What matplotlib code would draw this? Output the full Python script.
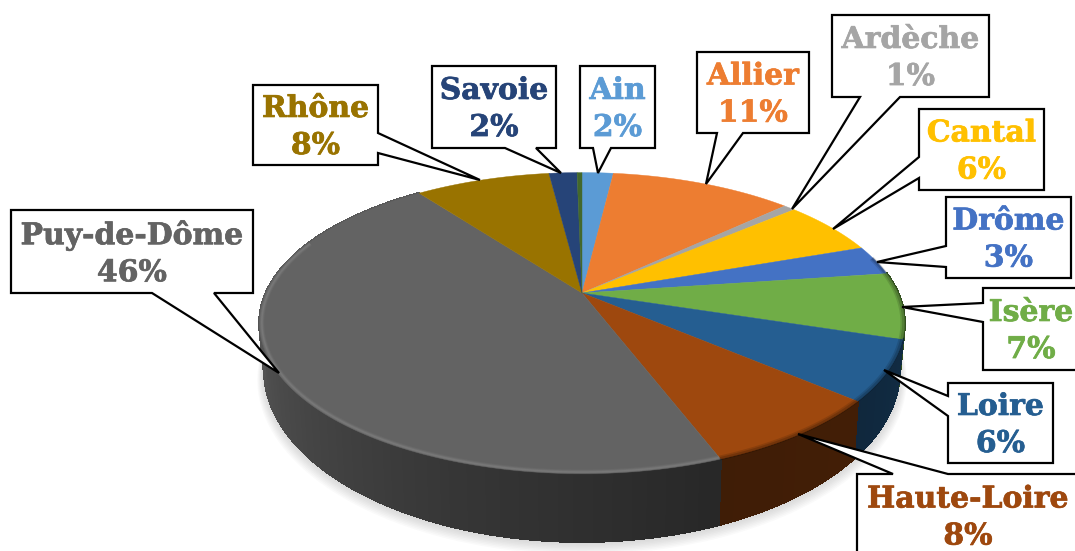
import numpy as np
import matplotlib
matplotlib.use("Agg")
import matplotlib.pyplot as plt
import matplotlib.patheffects as pe
from matplotlib.collections import PolyCollection
from matplotlib.patches import Polygon

names = ["Ain", "Allier", "Ardèche", "Cantal", "Drôme", "Isère", "Loire",
         "Haute-Loire", "Puy-de-Dôme", "Rhône", "Savoie", ""]
values = [1.9, 11.1, 0.7, 5.9, 3.2, 7.1, 6.4, 7.9, 45.6, 8.2, 1.7, 0.3]
colors = ["#5B9BD5", "#ED7D31", "#A5A5A5", "#FFC000", "#4472C4", "#70AD47",
          "#255E91", "#9E480E", "#636363", "#997300", "#264478", "#43682B"]
# callout layout: box (x0, y0, x1, y1), side of the pointer, base a, base b, tip
callouts = {
    "Ain": ((580, 66, 655, 148), "b", 593, 611, (598, 173)),
    "Allier": ((697, 52, 809, 133), "b", 717, 743, (706, 184)),
    "Ardèche": ((832, 15, 989, 97), "b", 860, 900, (792, 209)),
    "Cantal": ((919, 109, 1044, 190), "l", 157, 178, (833, 229)),
    "Drôme": ((946, 197, 1071, 278), "l", 246, 267, (877, 262)),
    "Isère": ((983, 288, 1079, 370), "l", 303, 322, (902, 307)),
    "Loire": ((948, 383, 1053, 463), "l", 396, 416, (884, 370)),
    "Haute-Loire": ((857, 474, 1079, 557), "t", 893, 948, (798, 434)),
    "Puy-de-Dôme": ((11, 210, 253, 293), "b", 152, 214, (279, 373)),
    "Rhône": ((253, 85, 378, 165), "r", 133, 153, (480, 180)),
    "Savoie": ((432, 66, 556, 148), "b", 505, 536, (561, 173)),
}

CX, CY, RX, RY, K = 582, 293, 316, 144.5, 0.2
DEPTH, SHRINK = 43.5, 0.985


def top(theta, r=1.0):
    u, v = r * np.sin(theta), r * np.cos(theta)
    s = 1 / (1 + K * v)
    return CX + RX * u * s, CY - RY * v * s


def bottom(theta, grow=1.0, drop=0.0):
    u, v = np.sin(theta), np.cos(theta)
    s = 1 / (1 + K * v)
    return CX + SHRINK * grow * RX * u * s, CY - grow * RY * v * s + DEPTH * s * s + drop


def shade(theta):
    return np.interp(np.degrees(theta), [90, 130, 160, 200, 270, 360],
                     [.5, .42, .40, .55, .9, .9])


fig = plt.figure(figsize=(10.75, 5.51), dpi=100)
ax = fig.add_axes([0, 0, 1, 1])
ax.set_xlim(0, 1075)
ax.set_ylim(551, 0)
ax.axis("off")

full = np.linspace(0, 2 * np.pi, 400)
# soft shadow below the disc
for g, d in zip(np.linspace(1.022, 1.0, 9), np.linspace(9, 1, 9)):
    bx, by = bottom(full, g, d)
    ax.fill(bx, by, color="#808080", alpha=.04, lw=0, zorder=1)

edges = np.radians(np.r_[0, np.cumsum(values)] * 3.6 / (sum(values) / 100))
# side wall
for i, col in enumerate(colors):
    th = np.linspace(edges[i], edges[i + 1], max(3, int(values[i] * 5)))
    if th[-1] < np.pi / 2 or th[0] > 1.6 * np.pi:
        continue
    base = np.array(matplotlib.colors.to_rgb(col))
    tx, ty = top(th)
    bx, by = bottom(th)
    quads = [[(tx[j], ty[j]), (tx[j + 1], ty[j + 1]), (bx[j + 1], by[j + 1]), (bx[j], by[j])]
             for j in range(len(th) - 1)]
    fc = [base * shade((th[j] + th[j + 1]) / 2) for j in range(len(th) - 1)]
    ax.add_collection(PolyCollection(quads, facecolors=fc, edgecolors=fc, linewidths=1.2,
                                     antialiaseds=False, zorder=2))

# top surface
for i, col in enumerate(colors):
    th = np.linspace(edges[i], edges[i + 1], max(3, int(values[i] * 8)))
    x, y = top(th)
    ax.fill(np.r_[CX, x], np.r_[CY, y], color=col, lw=.3, zorder=3)

# bevel along the front rim
for i, col in enumerate(colors):
    th = np.linspace(edges[i], edges[i + 1], max(3, int(values[i] * 8)))
    th = th[(th > np.radians(75)) & (th < np.radians(292))]
    if len(th) < 2:
        continue
    if names[i] == "Puy-de-Dôme":
        tone, spec = "white", [(.993, 3.5, .035), (.993, 2.2, .05), (.993, 1.0, .06)]
    else:
        tone, spec = "black", [(.995, 3.5, .12), (.997, 2, .16)]
    for r, lw, a in spec:
        x, y = top(th, r)
        ax.plot(x, y, color=tone, lw=lw, alpha=a, zorder=4, solid_capstyle="butt")

# callouts
for i, name in enumerate(names):
    if not name:
        continue
    (x0, y0, x1, y1), side, a, b, tip = callouts[name]
    if side == "b":
        pts = [(x0, y0), (x1, y0), (x1, y1), (b, y1), tip, (a, y1), (x0, y1)]
    elif side == "t":
        pts = [(x0, y0), (a, y0), tip, (b, y0), (x1, y0), (x1, y1), (x0, y1)]
    elif side == "l":
        pts = [(x0, y0), (x1, y0), (x1, y1), (x0, y1), (x0, b), tip, (x0, a)]
    else:
        pts = [(x0, y0), (x1, y0), (x1, a), tip, (x1, b), (x1, y1), (x0, y1)]
    ax.add_patch(Polygon(pts, closed=True, fc="white", ec="black", lw=1.6,
                         joinstyle="miter", zorder=5))
    ax.text((x0 + x1) / 2, (y0 + y1) / 2 + 2, f"{name}\n{values[i]:.0f}%", color=colors[i],
            ha="center", va="center", family="DejaVu Serif", weight="bold",
            fontsize=21.5, linespacing=1.35, zorder=6,
            path_effects=[pe.withStroke(linewidth=.5, foreground=colors[i])])

fig.savefig("out.png", dpi=100)
